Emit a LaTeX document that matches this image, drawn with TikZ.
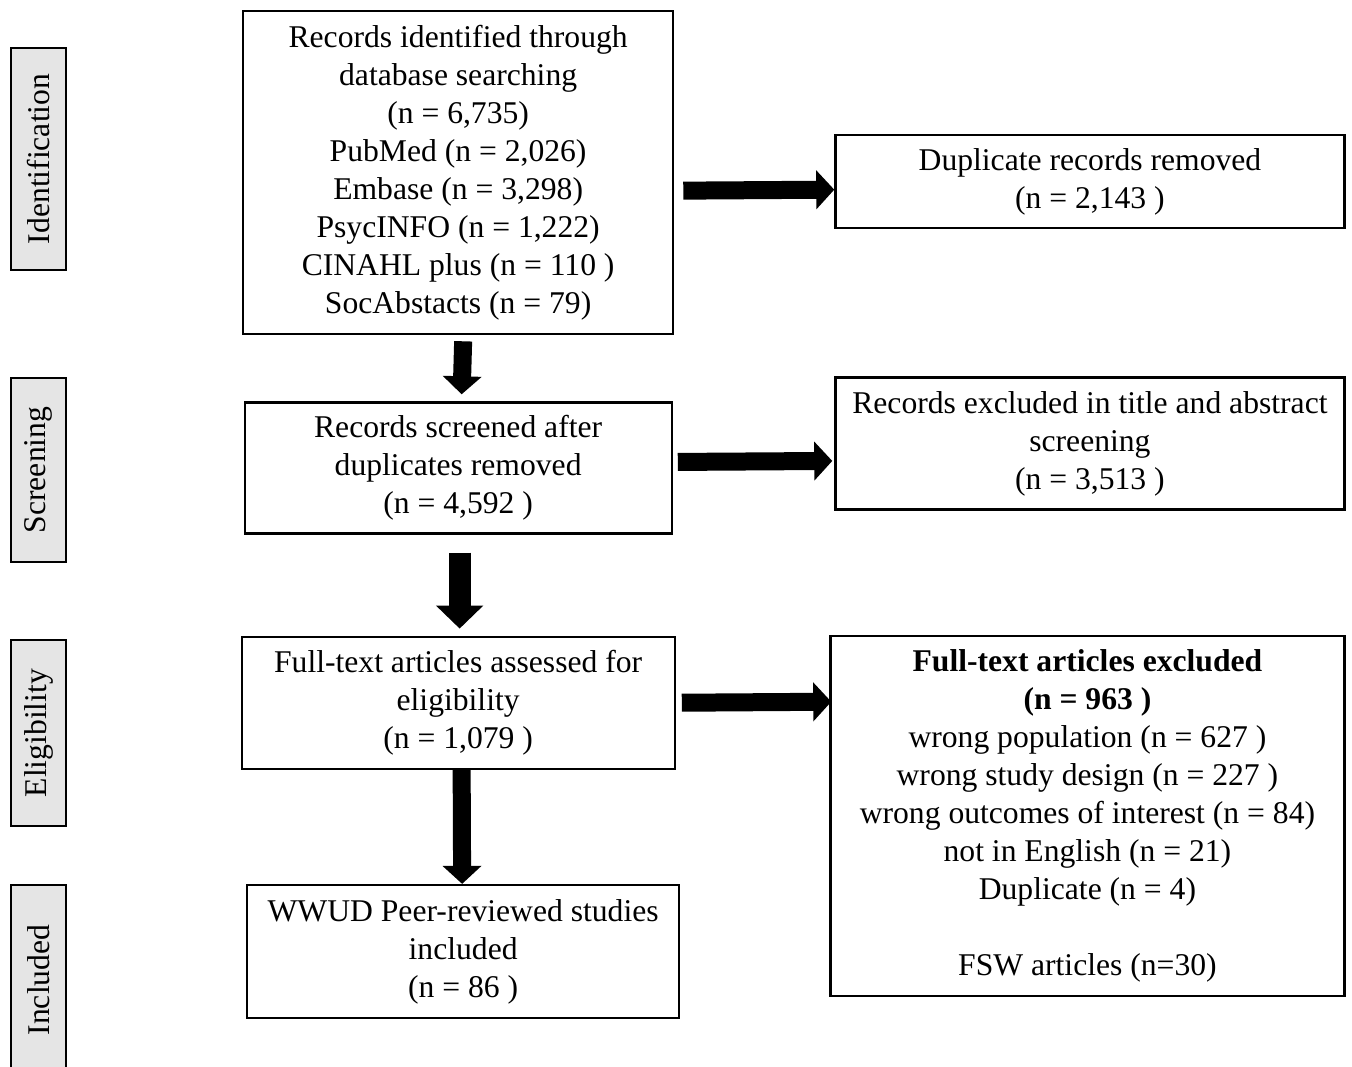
\documentclass[tikz,border=0pt]{standalone}
\usepackage{fontspec}
\setmainfont{Liberation Serif}
\usepackage{xcolor}
\usepackage{tikz}
\usetikzlibrary{arrows.meta,positioning}

\begin{document}
\begin{tikzpicture}[
font=\fontsize{18}{21.6}\selectfont,
box/.style={draw,line width=1.3pt,inner sep=2pt,align=center,minimum width=8.6cm,minimum height=2.64cm},
phase/.style={draw,line width=1.6pt,fill=gray!20,rotate=90,minimum height=1.1cm,inner sep=2pt},
arrow/.style={-{Triangle[length=.36cm,width=.76cm]},line width=.36cm},
bigarrow/.style={-{Triangle[length=.46cm,width=.92cm]},line width=.44cm}
]
\useasboundingbox (0,0) rectangle (27.04,-21.32);
\clip (0,0) rectangle (27.04,-21.32);
\node[box,minimum height=6.46cm,anchor=north west] (ident) at (4.84,-.2) {Records identified through\\database searching\\(n = 6,735)\\PubMed (n = 2,026)\\Embase (n = 3,298)\\PsycINFO (n = 1,222)\\CINAHL plus (n = 110 )\\SocAbstacts (n = 79)};
\node[box,minimum width=8.54cm,minimum height=2.62cm,below=1.32cm of ident] (screened) {Records screened after\\duplicates removed\\(n = 4,592 )};
\node[box,minimum width=8.66cm,below=2.02cm of screened] (fulltext) {Full-text articles assessed for\\eligibility\\(n = 1,079 )};
\node[box,minimum width=8.64cm,minimum height=2.66cm,below=2.28cm of fulltext,xshift=.1cm] (included) {WWUD Peer-reviewed studies\\included\\(n = 86 )};
\node[box,minimum width=10.18cm,minimum height=1.86cm,below right=2.48cm and 3.2cm of ident.north east] (dup) {Duplicate records removed\\(n = 2,143 )};
\node[box,minimum width=10.18cm,below=2.94cm of dup] (excltitle) {Records excluded in title and abstract\\screening\\(n = 3,513 )};
\node[box,minimum width=10.28cm,minimum height=7.2cm,below=2.48cm of excltitle,xshift=-.05cm] (exclfull) {\textbf{Full-text articles excluded}\\\textbf{(n = 963 )}\\wrong population (n = 627 )\\wrong study design (n = 227 )\\wrong outcomes of interest (n = 84)\\not in English (n = 21)\\Duplicate (n = 4)\\[21.6pt]FSW articles (n=30)};
\node[phase,minimum width=4.44cm] (identification) at (.77,-3.18) {Identification};
\node[phase,minimum width=3.68cm] (screening) at (.77,-9.4) {Screening};
\node[phase,minimum width=3.72cm] (eligibility) at (.77,-14.66) {Eligibility};
\node[phase,minimum width=3.8cm] (inclusion) at (.77,-19.6) {Included};
\draw[arrow] ([xshift=.18cm,yshift=-.36cm]ident.east) -- ([yshift=-.16cm]dup.west);
\draw[arrow] ([xshift=.1cm,yshift=.12cm]screened.east) -- ([xshift=-.04cm,yshift=-.35cm]excltitle.west);
\draw[arrow] ([xshift=.12cm]fulltext.east) -- ([xshift=.04cm,yshift=2.28cm]exclfull.west);
\draw[arrow] ([xshift=.1cm,yshift=-.12cm]ident.south) -- ([xshift=.07cm,yshift=.14cm]screened.north);
\draw[bigarrow] ([xshift=.03cm,yshift=-.36cm]screened.south) -- ([xshift=.03cm,yshift=.14cm]fulltext.north);
\draw[arrow] ([xshift=.07cm]fulltext.south) -- ([xshift=-.02cm]included.north);
\end{tikzpicture}
\end{document}
